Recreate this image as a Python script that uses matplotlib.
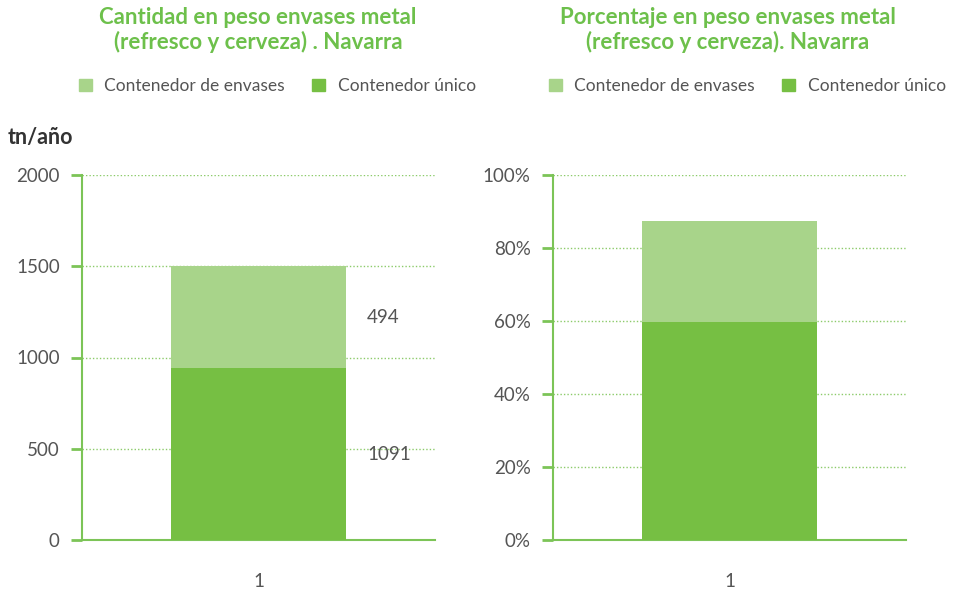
import matplotlib.pyplot as plt
from matplotlib.patches import Patch
from matplotlib.ticker import FuncFormatter

plt.rcParams["font.family"] = ["Lato", "DejaVu Sans"]

categories = ["1"]
series_names = ["Contenedor único", "Contenedor de envases"]

# tn/año, as drawn
tn_unico = [942]
tn_envases = [558]
tn_labels = ["1091", "494"]

# percentage, as drawn
pct_unico = [59.7]
pct_envases = [27.8]

tn_ticks = [0, 500, 1000, 1500, 2000]
pct_ticks = [0, 20, 40, 60, 80, 100]

titles = [
    "Cantidad en peso envases metal\n(refresco y cerveza) . Navarra",
    "Porcentaje en peso envases metal\n(refresco y cerveza). Navarra",
]

DARK = "#76BF43"
LIGHT = "#A8D48A"
LINE = "#7CC457"
GRID = "#8CCB6A"
TITLE = "#6DC04B"
TEXT = "#555555"

W, H = 960, 591
fig = plt.figure(figsize=(W / 100, H / 100), dpi=100)


def px_axes(x0, y0, x1, y1):
    return fig.add_axes([x0 / W, 1 - y1 / H, (x1 - x0) / W, (y1 - y0) / H])


def style(ax, ticks, ymax):
    ax.set_xlim(-0.5, 0.5)
    ax.set_ylim(0, ymax)
    ax.set_yticks(ticks)
    ax.set_xticks(range(len(categories)))
    ax.set_xticklabels(categories)
    for s in ("top", "right"):
        ax.spines[s].set_visible(False)
    for s in ("left", "bottom"):
        ax.spines[s].set_color(LINE)
        ax.spines[s].set_linewidth(1.5)
    ax.tick_params(axis="y", length=8, width=2, color=LINE, labelcolor=TEXT,
                   labelsize=13.5, pad=8)
    ax.tick_params(axis="x", length=0, labelcolor=TEXT, labelsize=13.5, pad=24)
    ax.grid(axis="y", linestyle=(0, (1, 1.5)), color=GRID, linewidth=1)
    ax.set_axisbelow(True)


bar_w = 0.496

ax1 = px_axes(82, 175, 435, 540)
ax1.bar(categories, tn_unico, width=bar_w, color=DARK, zorder=3)
ax1.bar(categories, tn_envases, width=bar_w, bottom=tn_unico, color=LIGHT, zorder=3)
style(ax1, tn_ticks, 2000)
for i in range(len(categories)):
    ax1.text(i + bar_w / 2 + 0.06, tn_unico[i] / 2, tn_labels[0],
             va="center", ha="left", color=TEXT, fontsize=13.5)
    ax1.text(i + bar_w / 2 + 0.06, tn_unico[i] + tn_envases[i] / 2, tn_labels[1],
             va="center", ha="left", color=TEXT, fontsize=13.5)

ax2 = px_axes(553, 175, 906, 540)
ax2.bar(categories, pct_unico, width=bar_w, color=DARK, zorder=3)
ax2.bar(categories, pct_envases, width=bar_w, bottom=pct_unico, color=LIGHT, zorder=3)
style(ax2, pct_ticks, 100)
ax2.yaxis.set_major_formatter(FuncFormatter(lambda v, p: f"{v:.0f}%"))

fig.text(8 / W, 1 - 137 / H, "tn/año", fontsize=15.5, fontweight="bold",
         color="#333333", va="center", ha="left")

handles = [Patch(color=LIGHT, label=series_names[1]),
           Patch(color=DARK, label=series_names[0])]
for cx, title in zip([258, 728], titles):
    fig.text(cx / W, 1 - 30 / H, title, ha="center", va="center",
             fontsize=16, fontweight="bold", color=TITLE, linespacing=1.15)
    fig.legend(handles=handles, loc="center", bbox_to_anchor=(cx / W + 0.02, 1 - 86 / H),
               ncol=2, frameon=False, fontsize=12.5, handlelength=0.75,
               handleheight=0.75, handletextpad=0.7, columnspacing=1.6,
               labelcolor=TEXT)

fig.savefig("out.png", dpi=100)
